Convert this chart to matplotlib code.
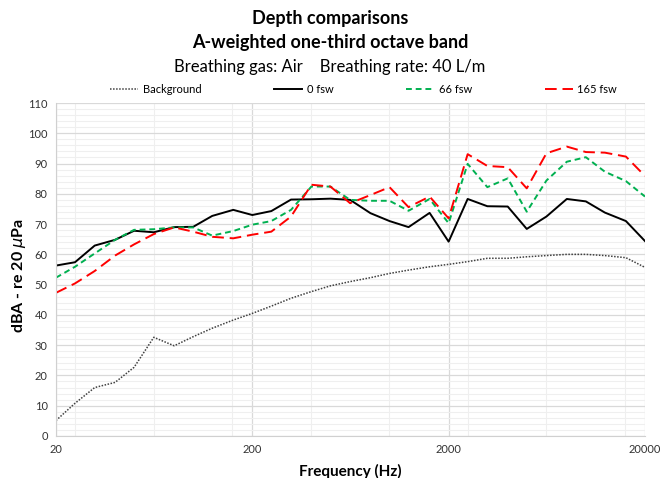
import numpy as np
import matplotlib
matplotlib.use("Agg")
import matplotlib.pyplot as plt
from matplotlib.ticker import FixedLocator, NullFormatter

plt.rcParams['font.family'] = ['Lato', 'DejaVu Sans']

# one-third octave band centre frequencies (Hz)
freq = [20, 25, 31.5, 40, 50, 63, 80, 100, 125, 160, 200, 250, 315, 400, 500,
        630, 800, 1000, 1250, 1600, 2000, 2500, 3150, 4000, 5000, 6300, 8000,
        10000, 12500, 16000, 20000]

background = [5.1, 10.8, 16.0, 17.7, 22.7, 32.6, 29.8, 32.8, 35.6, 38.3, 40.5,
              42.9, 45.5, 47.7, 49.6, 51.0, 52.3, 53.7, 54.8, 55.9, 56.7, 57.6,
              58.7, 58.7, 59.2, 59.6, 60.0, 60.0, 59.6, 58.9, 55.7]
fsw0 = [56.3, 57.4, 62.9, 64.8, 67.8, 67.3, 69.0, 69.1, 72.7, 74.7, 73.0, 74.3,
        78.1, 78.2, 78.4, 78.0, 73.6, 71.0, 69.0, 73.7, 64.2, 78.3, 75.9, 75.8,
        68.4, 72.5, 78.3, 77.5, 73.8, 71.0, 64.4]
fsw66 = [52.3, 55.9, 60.3, 64.8, 68.1, 68.3, 68.9, 68.9, 66.2, 67.7, 69.8, 71.0,
         74.7, 82.4, 82.4, 78.0, 77.7, 77.7, 74.4, 78.3, 70.3, 89.9, 82.2, 85.1,
         74.1, 84.4, 90.6, 92.1, 87.3, 84.2, 79.1]
fsw165 = [47.3, 50.4, 54.5, 59.6, 63.3, 66.7, 68.9, 67.5, 65.8, 65.3, 66.5, 67.5,
          72.5, 83.0, 82.4, 76.9, 79.6, 82.2, 75.6, 79.1, 71.9, 93.1, 89.2, 88.8,
          81.8, 93.4, 95.6, 93.8, 93.6, 92.3, 85.9]

xticks = [20, 200, 2000, 20000]

fig = plt.figure(figsize=(6.6, 4.78), dpi=100)
ax = fig.add_axes([0.0848, 0.0879, 0.8924, 0.6966])

ax.set_xscale('log')
ax.set_xlim(20, 20000)
ax.set_ylim(0, 110)

# grid like the spreadsheet chart
ax.xaxis.set_major_locator(FixedLocator(xticks))
ax.xaxis.set_major_formatter(matplotlib.ticker.FixedFormatter([str(t) for t in xticks]))
minor_x = [25 * 10 ** (0.4 * k) for k in range(8)]
ax.xaxis.set_minor_locator(FixedLocator(minor_x))
ax.xaxis.set_minor_formatter(NullFormatter())
ax.set_yticks(np.arange(0, 111, 10))
ax.set_yticks(np.arange(0, 111, 2), minor=True)
ax.grid(which='major', color='#d9d9d9', linewidth=0.9)
ax.grid(which='minor', color='#efefef', linewidth=0.8)
ax.set_axisbelow(True)
ax.tick_params(which='both', length=0, labelsize=8, colors='#333333', pad=6)

for s in ['top', 'right']:
    ax.spines[s].set_visible(False)
for s in ['left', 'bottom']:
    ax.spines[s].set_color('#d0d0d0')

ax.plot(freq, background, color='#404040', linestyle=(0, (1, 1)), linewidth=1.1, label='Background')
ax.plot(freq, fsw0, color='black', linewidth=1.4, label='0 fsw')
ax.plot(freq, fsw66, color='#00b050', linestyle=(0, (3, 2)), linewidth=1.4, label='66 fsw')
ax.plot(freq, fsw165, color='#ff0000', linestyle=(0, (6, 3)), linewidth=1.4, label='165 fsw')

ax.set_xlabel('Frequency (Hz)', fontsize=11, fontweight='bold', labelpad=6)
ax.set_ylabel(r'dBA - re 20 $\mu$Pa', fontsize=11.5, fontweight='bold', labelpad=2)
ax.yaxis.set_label_coords(-0.048, 0.48)

fig.text(0.5, 0.962, 'Depth comparisons', ha='center', va='center', fontsize=13, fontweight='bold')
fig.text(0.5, 0.912, 'A-weighted one-third octave band', ha='center', va='center', fontsize=13, fontweight='bold')
fig.text(0.5, 0.860, 'Breathing gas: Air    Breathing rate: 40 L/m', ha='center', va='center', fontsize=12)

ax.legend(loc='lower left', bbox_to_anchor=(0.085, 1.01, 0.875, 0.05), mode='expand', ncol=4,
          frameon=False, fontsize=8, handlelength=2.5, borderaxespad=0, handletextpad=0.4)

fig.savefig('out.png', dpi=100)
